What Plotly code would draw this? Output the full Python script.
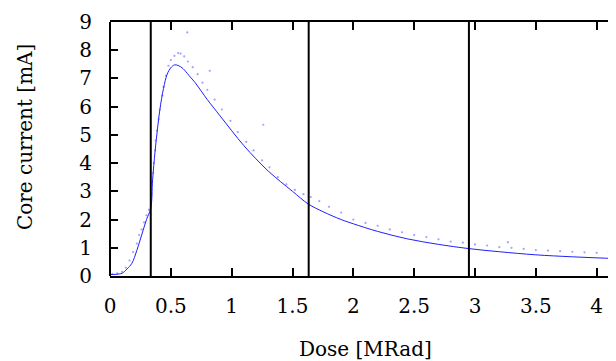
import plotly.graph_objects as go

# Fitted curve (solid line)
fit_x = [0, 0.05, 0.10, 0.14, 0.18, 0.22, 0.26, 0.30, 0.335, 0.35, 0.37, 0.39, 0.41, 0.44, 0.47,
         0.50, 0.53, 0.56, 0.60, 0.65, 0.70, 0.75, 0.80, 0.90, 1.00, 1.10, 1.20, 1.30, 1.40,
         1.50, 1.63, 1.75, 1.90, 2.00, 2.20, 2.44, 2.70, 2.95, 3.20, 3.50, 3.80, 4.20]
fit_y = [0.05, 0.06, 0.10, 0.25, 0.45, 0.90, 1.45, 2.00, 2.40, 3.40, 4.40, 5.20, 5.90, 6.65, 7.15,
         7.38, 7.48, 7.46, 7.35, 7.10, 6.85, 6.55, 6.25, 5.70, 5.15, 4.62, 4.15, 3.72, 3.35,
         3.00, 2.55, 2.28, 2.00, 1.85, 1.58, 1.32, 1.12, 0.97, 0.86, 0.75, 0.68, 0.61]

# Measured points (dots)
meas_x = [0.02, 0.06, 0.10, 0.13, 0.16, 0.19, 0.22, 0.24, 0.26, 0.28, 0.30, 0.32,
          0.34, 0.345, 0.355, 0.36, 0.37, 0.375, 0.385, 0.40, 0.41, 0.43, 0.44, 0.46, 0.48,
          0.50, 0.53, 0.56, 0.58, 0.61, 0.635, 0.64, 0.68, 0.72, 0.76, 0.80, 0.82, 0.86, 0.92,
          0.99, 1.05, 1.12, 1.18, 1.25, 1.26, 1.31, 1.38, 1.45, 1.52, 1.59, 1.65, 1.72, 1.80,
          1.90, 2.00, 2.10, 2.20, 2.30, 2.40, 2.50, 2.60, 2.70, 2.80, 2.90, 3.00, 3.10, 3.20,
          3.27, 3.30, 3.40, 3.50, 3.60, 3.70, 3.80, 3.90, 4.00, 4.10, 4.15]
meas_y = [0.08, 0.09, 0.15, 0.30, 0.55, 0.85, 1.15, 1.45, 1.65, 1.90, 2.15, 2.35,
          2.90, 3.30, 3.65, 4.00, 4.45, 4.80, 5.15, 5.55, 5.90, 6.40, 6.70, 7.10, 7.45,
          7.65, 7.80, 7.90, 7.88, 7.78, 8.63, 7.60, 7.40, 7.15, 6.85, 6.60, 7.27, 6.25, 5.90,
          5.50, 5.10, 4.75, 4.45, 4.10, 5.36, 3.85, 3.50, 3.25, 3.05, 2.90, 2.80, 2.65, 2.45,
          2.25, 2.00, 1.88, 1.78, 1.65, 1.55, 1.45, 1.38, 1.30, 1.22, 1.18, 1.12, 1.08, 1.02,
          1.20, 1.00, 0.96, 0.92, 0.90, 0.88, 0.86, 0.84, 0.82, 0.85, 0.80]

# Vertical separators
boundaries = [0.335, 1.633, 2.95]

x_ticks = [0, 0.5, 1, 1.5, 2, 2.5, 3, 3.5, 4]
x_labels = ["0", "0.5", "1", "1.5", "2", "2.5", "3", "3.5", "4"]
y_ticks = list(range(0, 10))

FONT = "DejaVu Serif"
FS = 20

fig = go.Figure()
fig.add_trace(go.Scatter(x=meas_x, y=meas_y, mode="markers",
                         marker=dict(color="rgba(70,70,255,0.5)", size=2.2),
                         showlegend=False, hoverinfo="skip"))
fig.add_trace(go.Scatter(x=fit_x, y=fit_y, mode="lines", line_shape="spline",
                         line=dict(color="#2020ff", width=1),
                         showlegend=False, hoverinfo="skip"))

for b in boundaries:
    fig.add_shape(type="line", xref="x", yref="y", x0=b, x1=b, y0=0, y1=9,
                  line=dict(color="black", width=2))

# left axis line
fig.add_shape(type="line", xref="paper", yref="paper", x0=0, x1=0, y0=0, y1=1,
              line=dict(color="black", width=2))

fig.update_xaxes(range=[0, 4.2], tickvals=x_ticks, ticktext=x_labels,
                 ticks="inside", ticklen=8, tickwidth=2, tickcolor="black",
                 showline=True, linecolor="black", linewidth=2, mirror="ticks",
                 showgrid=False, zeroline=False, ticklabelstandoff=11,
                 tickfont=dict(family=FONT, size=FS, color="black"))
fig.update_yaxes(range=[0, 9], tickvals=y_ticks,
                 ticks="inside", ticklen=8, tickwidth=2, tickcolor="black",
                 showline=False, mirror="ticks",
                 showgrid=False, zeroline=False, ticklabelstandoff=17,
                 tickfont=dict(family=FONT, size=FS, color="black"))

fig.add_annotation(text="Dose [MRad]", xref="paper", yref="paper", x=0.5, y=0,
                   xanchor="center", yanchor="middle", yshift=-73, showarrow=False,
                   font=dict(family=FONT, size=FS, color="black"))
fig.add_annotation(text="Core current [mA]", xref="paper", yref="paper", x=0, y=0.547,
                   xanchor="center", yanchor="middle", xshift=-85, textangle=-90,
                   showarrow=False, font=dict(family=FONT, size=FS, color="black"))

fig.update_layout(width=616, height=361, margin=dict(l=102, r=3, t=14, b=93),
                  plot_bgcolor="white", paper_bgcolor="white",
                  font=dict(family=FONT, size=FS, color="black"))

fig.write_html("out.html")
